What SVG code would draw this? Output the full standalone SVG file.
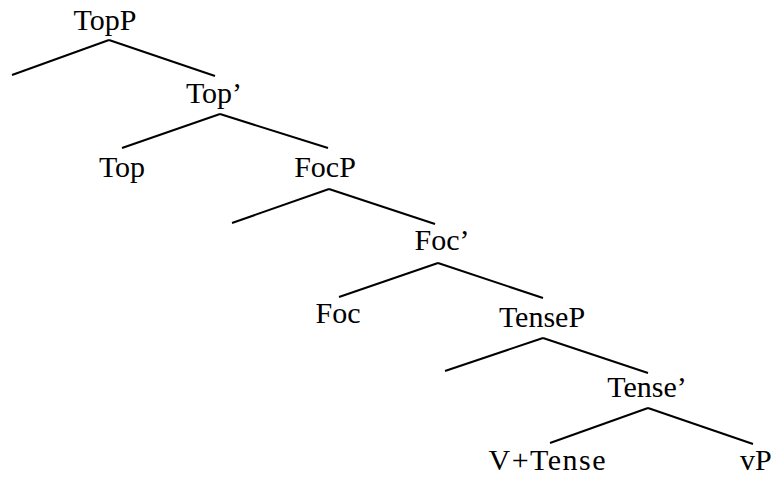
<svg xmlns="http://www.w3.org/2000/svg" width="773" height="477" viewBox="0 0 773 477">
<style>
text{font-family:"Liberation Serif","Times New Roman",serif;font-size:30px;fill:#000;text-anchor:middle}
line{stroke:#000;stroke-width:2}
</style>
<rect width="773" height="477" fill="#fff"/>
<g id="connectors">
<line x1="109" y1="40" x2="12" y2="75"/>
<line x1="109" y1="40" x2="215" y2="76"/>
<line x1="220" y1="114" x2="122" y2="148"/>
<line x1="220" y1="114" x2="328" y2="148"/>
<line x1="329" y1="189" x2="232" y2="223"/>
<line x1="329" y1="189" x2="435" y2="224"/>
<line x1="438" y1="263" x2="339" y2="297"/>
<line x1="438" y1="263" x2="543" y2="298"/>
<line x1="543" y1="338" x2="445" y2="371"/>
<line x1="543" y1="338" x2="648" y2="373"/>
<line x1="648" y1="408" x2="550" y2="443"/>
<line x1="648" y1="408" x2="753" y2="444"/>
</g>
<g id="TopP"><text x="105" y="30">TopP</text></g>
<g id="TopBar"><text x="214" y="103">Top’</text></g>
<g id="Top"><text x="122" y="177">Top</text></g>
<g id="FocP"><text x="325" y="177">FocP</text></g>
<g id="FocBar"><text x="442" y="250">Foc’</text></g>
<g id="Foc"><text x="338" y="323">Foc</text></g>
<g id="TenseP"><text x="542" y="327">TenseP</text></g>
<g id="TenseBar"><text x="647" y="397">Tense’</text></g>
<g id="VTense"><text x="547" y="470" textLength="117" lengthAdjust="spacing">V+Tense</text></g>
<g id="vP"><text x="740" y="470" style="text-anchor:start">vP</text></g>
</svg>
